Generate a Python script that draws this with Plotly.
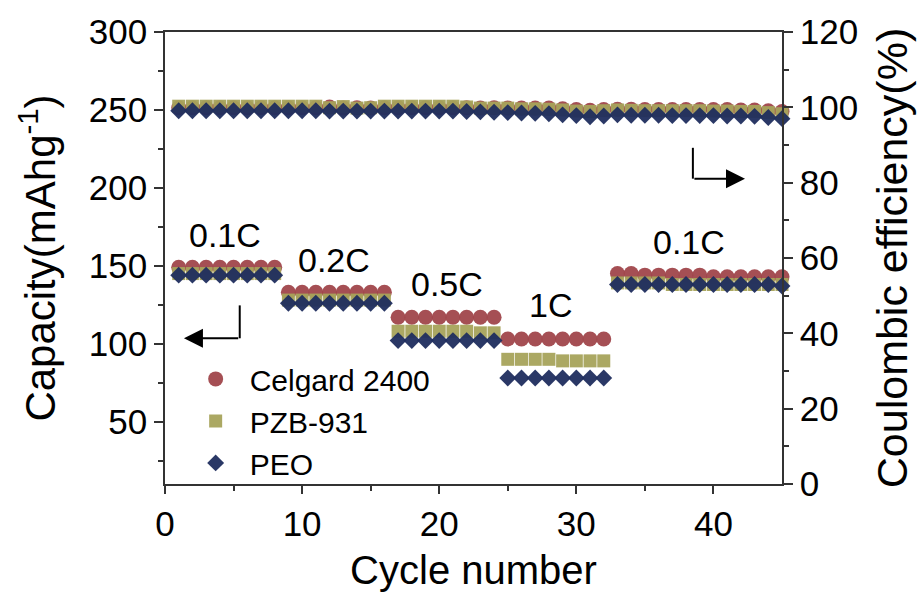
import plotly.graph_objects as go

# Cycle numbers and rate steps
cycles = list(range(1, 46))
rate_labels = ["0.1C", "0.2C", "0.5C", "1C", "0.1C"]

# Discharge capacity (mAh/g)
cap_celgard = [149, 149, 149, 149, 149, 149, 149, 149,
               133, 133, 133, 133, 133, 133, 133, 133,
               117, 117, 117, 117, 117, 117, 117, 117,
               103, 103, 103, 103, 103, 103, 103, 103,
               145, 145, 144, 144, 144, 144, 144, 143, 143, 143, 143, 143, 143]
cap_pzb = [145, 145, 145, 145, 145, 145, 145, 145,
           128, 128, 128, 128, 128, 128, 128, 128,
           108, 108, 108, 108, 108, 108, 107, 107,
           90, 90, 90, 90, 89, 89, 89, 89,
           139, 139, 139, 139, 138, 138, 138, 138, 138, 138, 138, 138, 138]
cap_peo = [144, 144, 144, 144, 144, 144, 144, 144,
           126, 126, 126, 126, 126, 126, 126, 126,
           102, 102, 102, 102, 102, 102, 102, 102,
           78, 78, 78, 78, 78, 78, 78, 78,
           138, 138, 138, 138, 138, 138, 138, 138, 138, 138, 138, 138, 137]

# Coulombic efficiency (%)
ce_celgard = [99.9, 99.9, 99.9, 99.9, 99.9, 99.9, 99.9, 99.9, 99.9, 99.9, 99.9,
              100.1, 99.8, 99.9, 99.8, 99.9, 99.9, 99.9, 99.9, 99.9, 99.9, 99.9,
              99.8, 99.9, 99.8, 99.8, 99.8, 99.8, 99.6, 99.4, 99.2, 99.4, 99.5,
              99.5, 99.4, 99.4, 99.4, 99.4, 99.4, 99.4, 99.4, 99.3, 99.3, 99.1, 98.9]
ce_pzb = [100.3, 100.3, 100.3, 100.3, 100.3, 100.3, 100.3, 100.3, 100.3, 100.3, 100.3,
          99.9, 100.2, 99.8, 99.9, 100.3, 100.3, 100.3, 100.3, 100.3, 100.3, 100.1,
          99.8, 99.8, 99.8, 99.6, 99.6, 99.5, 99.3, 99.0, 98.9, 99.1, 99.3,
          99.2, 99.1, 99.1, 99.1, 99.1, 99.1, 99.0, 99.0, 98.9, 98.9, 98.6, 98.3]
ce_peo = [99.1, 99.1, 99.1, 99.1, 99.1, 99.1, 99.1, 99.1, 99.1, 99.1, 99.1,
          99.0, 99.0, 99.0, 99.0, 99.0, 99.0, 99.0, 99.0, 99.0, 99.0, 98.9,
          98.8, 98.7, 98.6, 98.5, 98.4, 98.3, 98.0, 97.8, 97.5, 97.7, 98.0,
          97.9, 97.9, 97.9, 97.8, 97.8, 97.8, 97.8, 97.7, 97.7, 97.6, 97.3, 97.0]

names = ["Celgard 2400", "PZB-931", "PEO"]
colors = ["#A0464B", "#A6A35B", "#1F2D5E"]
symbols = ["circle", "square", "diamond"]
sizes = [15, 13, 13]
caps = [cap_celgard, cap_pzb, cap_peo]
ces = [ce_celgard, ce_pzb, ce_peo]

FONT = "Liberation Sans, Arial, sans-serif"

fig = go.Figure()

for name, col, sym, sz, cap in zip(names, colors, symbols, sizes, caps):
    fig.add_trace(go.Scatter(
        x=cycles, y=cap, mode="markers", name=name,
        marker=dict(symbol=sym, color=col, size=sz, opacity=0.95,
                    line=dict(width=0)),
        cliponaxis=False,
    ))

for name, col, sym, sz, ce in zip(names, colors, symbols, sizes, ces):
    fig.add_trace(go.Scatter(
        x=cycles, y=ce, mode="markers", name=name + " CE", yaxis="y2",
        marker=dict(symbol=sym, color=col, size=sz, opacity=0.95,
                    line=dict(width=0)),
        showlegend=False, cliponaxis=False,
    ))

# Rate labels above each step
label_pos = [(4.36, 169.5), (12.35, 154.0), (20.6, 138.5), (28.1, 124.8), (38.2, 165.0)]
for txt, (lx, ly) in zip(rate_labels, label_pos):
    fig.add_annotation(x=lx, y=ly, text=txt, showarrow=False,
                       font=dict(family=FONT, size=34, color="black"),
                       xanchor="center", yanchor="middle")

# Axis indicator arrows
line_style = dict(color="black", width=2)
fig.add_shape(type="line", x0=5.45, x1=5.45, y0=124.6, y1=103.5, line=line_style)
fig.add_annotation(x=1.38, y=103.5, ax=5.45, ay=103.5, axref="x", ayref="y",
                   xref="x", yref="y", text="", showarrow=True,
                   arrowhead=2, arrowsize=1.9, arrowwidth=2, arrowcolor="black")
fig.add_shape(type="line", x0=38.5, x1=38.5, y0=225.7, y1=205.9, line=line_style)
fig.add_annotation(x=42.3, y=205.9, ax=38.5, ay=205.9, axref="x", ayref="y",
                   xref="x", yref="y", text="", showarrow=True,
                   arrowhead=2, arrowsize=1.9, arrowwidth=2, arrowcolor="black")

tick_font = dict(family=FONT, size=35, color="black")
axis_col = "#333333"

fig.update_layout(
    width=920, height=597,
    margin=dict(l=165, r=135, t=32, b=112),
    paper_bgcolor="white", plot_bgcolor="white",
    font=dict(family=FONT, color="black"),
    xaxis=dict(
        range=[0, 45], tickvals=[0, 10, 20, 30, 40],
        ticks="outside", ticklen=8, tickwidth=1.5, tickcolor=axis_col,
        minor=dict(tickvals=[5, 15, 25, 35], ticks="outside", ticklen=5,
                   tickcolor=axis_col),
        showline=True, linecolor=axis_col, linewidth=1.5, mirror=True,
        showgrid=False, zeroline=False, tickfont=tick_font,
        title=dict(text="Cycle number",
                   font=dict(family=FONT, size=40, color="black"), standoff=14),
    ),
    yaxis=dict(
        range=[10, 300], tickvals=[50, 100, 150, 200, 250, 300],
        ticks="outside", ticklen=9, tickwidth=1.5, tickcolor=axis_col,
        minor=dict(tickvals=[25, 75, 125, 175, 225, 275], ticks="outside",
                   ticklen=5, tickcolor=axis_col),
        showline=True, linecolor=axis_col, linewidth=1.5,
        showgrid=False, zeroline=False, tickfont=tick_font,
        title=dict(text="Capacity(mAhg<sup>-1</sup>)",
                   font=dict(family=FONT, size=42, color="black"), standoff=20),
    ),
    yaxis2=dict(
        range=[0, 120], tickvals=[0, 20, 40, 60, 80, 100, 120],
        overlaying="y", side="right",
        ticks="outside", ticklen=9, tickwidth=1.5, tickcolor=axis_col,
        minor=dict(tickvals=[10, 30, 50, 70, 90, 110], ticks="outside",
                   ticklen=5, tickcolor=axis_col),
        showline=True, linecolor=axis_col, linewidth=1.5,
        showgrid=False, zeroline=False, tickfont=tick_font,
        title=dict(text="Coulombic efficiency(%)",
                   font=dict(family=FONT, size=43, color="black"), standoff=20),
    ),
    legend=dict(
        x=0.027, y=0.29, xanchor="left", yanchor="top",
        bgcolor="rgba(0,0,0,0)", borderwidth=0,
        font=dict(family=FONT, size=30, color="black"),
        tracegroupgap=0, itemwidth=58,
    ),
    showlegend=True,
)

fig.write_html("out.html")
